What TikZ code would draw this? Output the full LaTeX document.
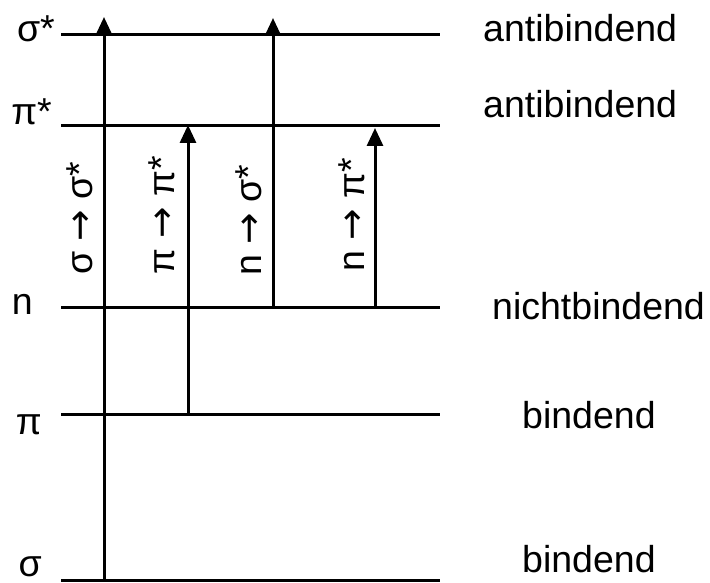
\documentclass[tikz,border=0pt]{standalone}
\usepackage{fontspec}
\setmainfont{Liberation Sans}
\newfontfamily\arrowfont{DejaVu Sans}
\usetikzlibrary{arrows.meta}

\newcommand{\goesto}{{\arrowfont →}}

\begin{document}
\begin{tikzpicture}[x=1pt, y=1pt,
    level/.style = {line width=3pt},
    trans/.style = {line width=3pt, -{Triangle[width=16pt,length=18pt]}},
    lbl/.style = {inner sep=0pt, font=\fontsize{37.5}{40}\selectfont}]
    \useasboundingbox (0,0) rectangle (710,583);

    % energy levels
    \foreach \name/\y in {sigS/548, piS/457, n/275, pi/168, sig/2}
    {
        \coordinate (\name-l) at (61,\y);
        \coordinate (\name-r) at (440,\y);
        \draw[level] (\name-l) -- (\name-r);
    }

    % level names on the left
    \node[lbl, anchor=base east] (sigS-name) at (55,541) {σ*};
    \node[lbl, anchor=base east] (piS-name) at (52,458) {π*};
    \node[lbl, anchor=base east] (n-name) at (33,268) {n};
    \node[lbl, anchor=base east] (pi-name) at (42,148) {π};
    \node[lbl, anchor=base east] (sig-name) at (42,6) {σ};

    % bonding character on the right
    \node[lbl, anchor=base west] (sigS-kind) at (483,541) {antibindend};
    \node[lbl, anchor=base west] (piS-kind) at (483,465) {antibindend};
    \node[lbl, anchor=base west] (n-kind) at (492,263) {nichtbindend};
    \node[lbl, anchor=base west] (pi-kind) at (522,154) {bindend};
    \node[lbl, anchor=base west] (sig-kind) at (522,10) {bindend};

    % transition end points
    \coordinate (ss-foot) at (104,2);
    \coordinate (ss-head) at (104,566);
    \coordinate (pp-foot) at (188,168);
    \coordinate (pp-head) at (188,458);
    \coordinate (ns-foot) at (273,275);
    \coordinate (ns-head) at (273,565);
    \coordinate (np-foot) at (375,275);
    \coordinate (np-head) at (375,455);

    % transitions
    \foreach \t in {ss, pp, ns, np}
    {
        \draw[trans] (\t-foot) -- (\t-head);
    }

    % transition labels
    \node[lbl, rotate=90] (ss-text) at (80,365) {σ \goesto{} σ*};
    \node[lbl, rotate=90] (pp-text) at (162,368) {π \goesto{} π*};
    \node[lbl, rotate=90] (ns-text) at (249,363) {n \goesto{} σ*};
    \node[lbl, rotate=90] (np-text) at (352,368) {n \goesto{} π*};

\end{tikzpicture}
\end{document}
